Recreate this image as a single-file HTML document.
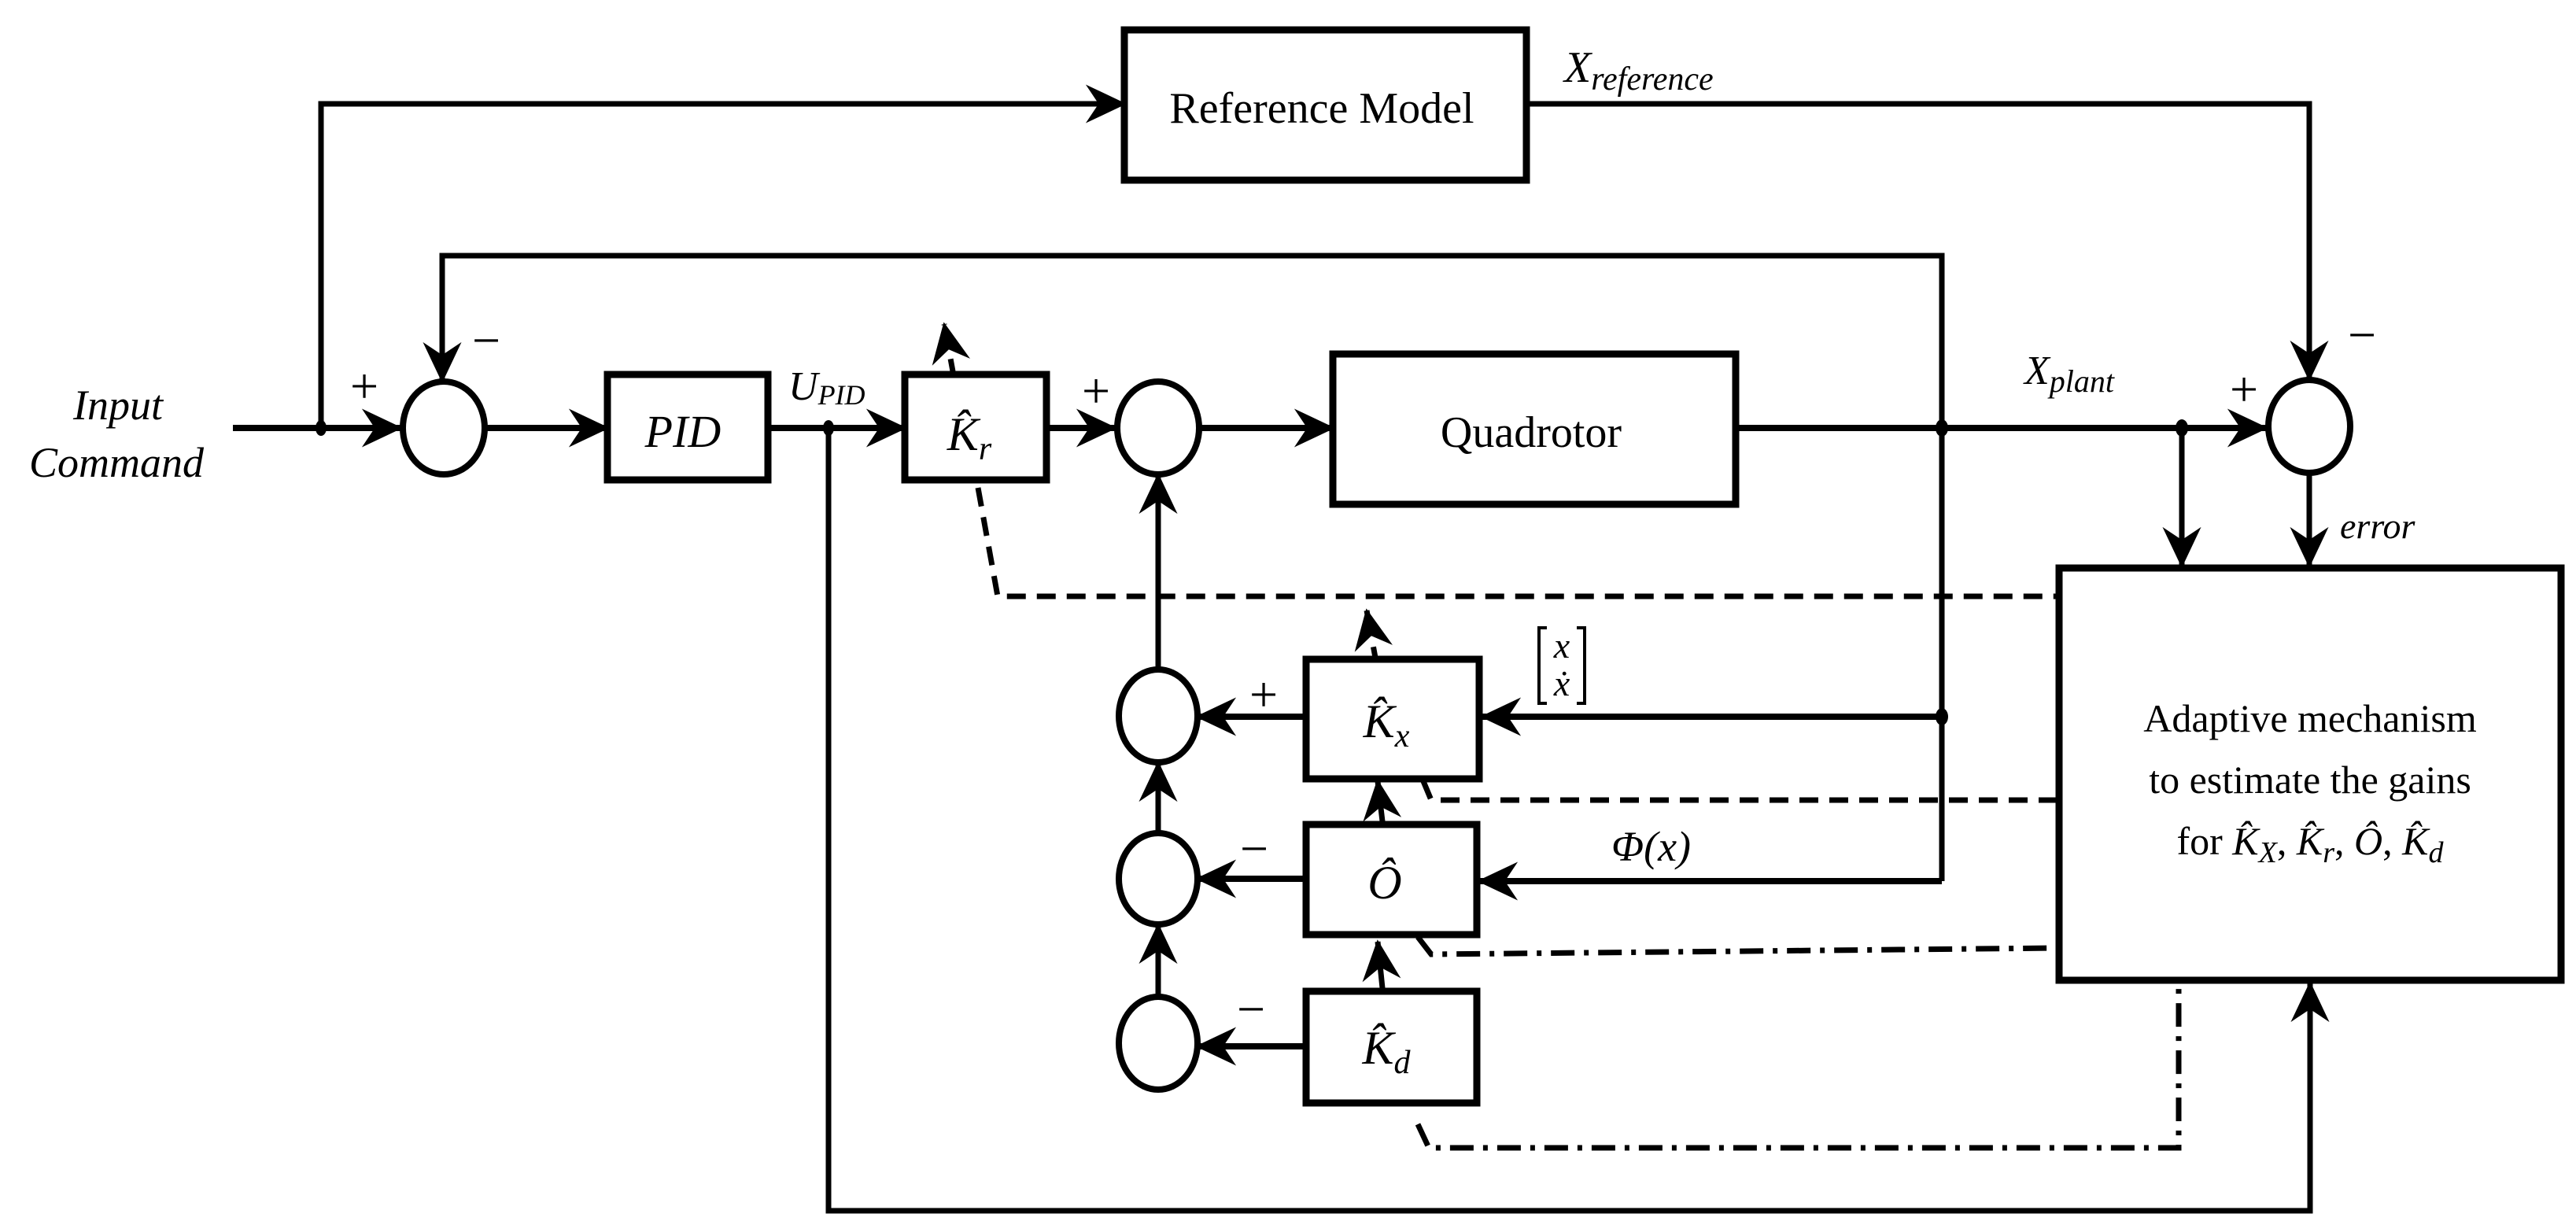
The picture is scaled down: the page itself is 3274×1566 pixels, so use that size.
<!DOCTYPE html>
<html><head><meta charset="utf-8"><style>
html,body{margin:0;padding:0;background:#fff;}
svg{display:block;}
text{font-family:"Liberation Serif","DejaVu Serif",serif;fill:#000;}
.i{font-style:italic;}
</style></head><body>
<svg width="3274" height="1566" viewBox="0 0 3274 1566" xmlns="http://www.w3.org/2000/svg">
<defs>
<marker id="a" markerUnits="userSpaceOnUse" markerWidth="60" markerHeight="60" viewBox="-40 -20 44 40" refX="0" refY="0" orient="auto">
<path d="M2,0 L-36,-18 L-24,0 L-36,18 Z" fill="#000"/>
</marker>
</defs>
<g fill="none" stroke="#000" stroke-width="7">
<rect x="1429" y="38" width="511" height="191" stroke-width="9"/>
<rect x="772" y="476" width="204" height="134" stroke-width="9"/>
<rect x="1150" y="476" width="180" height="134" stroke-width="9"/>
<rect x="1694" y="450" width="512" height="191" stroke-width="9"/>
<rect x="2617" y="722" width="638" height="524" stroke-width="9"/>
<rect x="1660" y="838" width="220" height="152" stroke-width="9"/>
<rect x="1660" y="1048" width="217" height="140" stroke-width="9"/>
<rect x="1660" y="1260" width="217" height="142" stroke-width="9"/>
<ellipse cx="564" cy="544" rx="52" ry="59" stroke-width="8"/>
<ellipse cx="1472" cy="544" rx="52" ry="59" stroke-width="8"/>
<ellipse cx="2935" cy="542" rx="52" ry="59" stroke-width="8"/>
<ellipse cx="1472" cy="910" rx="50" ry="59" stroke-width="8"/>
<ellipse cx="1472" cy="1117" rx="50" ry="58" stroke-width="8"/>
<ellipse cx="1472" cy="1326" rx="50" ry="59" stroke-width="8"/>
<line x1="296" y1="544" x2="509" y2="544" stroke-width="8" marker-end="url(#a)"/>
<polyline points="408,544 408,132 1429,132" marker-end="url(#a)"/>
<line x1="616" y1="544" x2="772" y2="544" stroke-width="8" marker-end="url(#a)"/>
<line x1="976" y1="544" x2="1150" y2="544" stroke-width="8" marker-end="url(#a)"/>
<line x1="1330" y1="544" x2="1417" y2="544" stroke-width="8" marker-end="url(#a)"/>
<line x1="1524" y1="544" x2="1694" y2="544" stroke-width="8" marker-end="url(#a)"/>
<line x1="2206" y1="544" x2="2880" y2="544" stroke-width="8" marker-end="url(#a)"/>
<polyline points="2468,1120 2468,325 562,325 562,484" marker-end="url(#a)"/>
<line x1="2468" y1="1120" x2="1880" y2="1120" stroke-width="8" marker-end="url(#a)"/>
<line x1="2468" y1="911" x2="1884" y2="911" stroke-width="8" marker-end="url(#a)"/>
<polyline points="1940,132 2935,132 2935,482" marker-end="url(#a)"/>
<line x1="2773" y1="544" x2="2773" y2="719" marker-end="url(#a)"/>
<line x1="2935" y1="602" x2="2935" y2="719" marker-end="url(#a)"/>
<polyline points="1053,544 1053,1539 2936,1539 2936,1250" marker-end="url(#a)"/>
<line x1="1472" y1="851" x2="1472" y2="604" marker-end="url(#a)"/>
<line x1="1472" y1="1059" x2="1472" y2="970" marker-end="url(#a)"/>
<line x1="1472" y1="1267" x2="1472" y2="1176" marker-end="url(#a)"/>
<line x1="1660" y1="911" x2="1522" y2="911" stroke-width="8" marker-end="url(#a)"/>
<line x1="1660" y1="1117" x2="1522" y2="1117" stroke-width="8" marker-end="url(#a)"/>
<line x1="1660" y1="1330" x2="1522" y2="1330" stroke-width="8" marker-end="url(#a)"/>
<line x1="1757" y1="1044" x2="1751" y2="993" marker-end="url(#a)"/>
<line x1="1757" y1="1256" x2="1751" y2="1197" marker-end="url(#a)"/>
<polyline points="1243,620 1268,758 2617,758" stroke-dasharray="24 14"/>
<line x1="1211" y1="472" x2="1200" y2="412" stroke-dasharray="16 14" marker-end="url(#a)"/>
<polyline points="1809,993 1819,1017 2617,1017" stroke-dasharray="24 14"/>
<line x1="1748" y1="836" x2="1737" y2="776" stroke-dasharray="14 14" marker-end="url(#a)"/>
<polyline points="1802,1191 1819,1213 2617,1205" stroke-dasharray="30 12 6 12"/>
<polyline points="1802,1429 1816,1459 2769,1459 2769,1250" stroke-dasharray="30 12 6 12"/>
<path d="M1966,798 H1956 V894 H1966" stroke-width="4"/>
<path d="M2004,798 H2014 V894 H2004" stroke-width="4"/>
</g>
<g fill="#000">
<ellipse cx="408" cy="544" rx="7" ry="10"/>
<ellipse cx="1053" cy="544" rx="7" ry="10"/>
<ellipse cx="2468" cy="544" rx="8" ry="11"/>
<ellipse cx="2773" cy="544" rx="8" ry="11"/>
<ellipse cx="2468" cy="911" rx="8" ry="11"/>
</g>
<text x="1680" y="156" font-size="56" text-anchor="middle">Reference Model</text>
<text x="1946" y="568" font-size="56" text-anchor="middle">Quadrotor</text>
<text x="868" y="568" font-size="58" class="i" text-anchor="middle">PID</text>
<text x="2936" y="930" font-size="50" text-anchor="middle">Adaptive mechanism</text>
<text x="2936" y="1008" font-size="50" text-anchor="middle">to estimate the gains</text>
<text x="2936" y="1086" font-size="50" text-anchor="middle">for <tspan class="i">K̂<tspan font-size="38" dy="10">X</tspan></tspan><tspan dy="-10">, </tspan><tspan class="i">K̂<tspan font-size="38" dy="10">r</tspan></tspan><tspan dy="-10">, </tspan><tspan class="i">Ô</tspan>, <tspan class="i">K̂<tspan font-size="38" dy="10">d</tspan></tspan></text>
<text x="150" y="533" font-size="54" class="i" text-anchor="middle">Input</text>
<text x="148" y="606" font-size="54" class="i" text-anchor="middle">Command</text>
<text x="1002" y="508" font-size="52" class="i">U<tspan font-size="36" dy="6">PID</tspan></text>
<text x="1988" y="104" font-size="56" class="i">X<tspan font-size="42" dy="10">reference</tspan></text>
<text x="2573" y="488" font-size="52" class="i">X<tspan font-size="40" dy="10">plant</tspan></text>
<text x="2974" y="684" font-size="46" class="i">error</text>
<text x="1232" y="572" font-size="60" class="i" text-anchor="middle">K̂<tspan font-size="42" dy="12">r</tspan></text>
<text x="1762" y="937" font-size="60" class="i" text-anchor="middle">K̂<tspan font-size="42" dy="12">x</tspan></text>
<text x="1760" y="1142" font-size="60" class="i" text-anchor="middle">Ô</text>
<text x="1762" y="1352" font-size="60" class="i" text-anchor="middle">K̂<tspan font-size="42" dy="12">d</tspan></text>
<text x="2048" y="1094" font-size="54" class="i">Φ(x)</text>
<text x="1985" y="836" font-size="46" class="i" text-anchor="middle">x</text>
<text x="1985" y="884" font-size="46" class="i" text-anchor="middle">ẋ</text>
<text x="463" y="512" font-size="64" text-anchor="middle">+</text>
<text x="618" y="454" font-size="64" text-anchor="middle">−</text>
<text x="1393" y="518" font-size="64" text-anchor="middle">+</text>
<text x="2852" y="516" font-size="64" text-anchor="middle">+</text>
<text x="3002" y="447" font-size="64" text-anchor="middle">−</text>
<text x="1606" y="904" font-size="64" text-anchor="middle">+</text>
<text x="1594" y="1100" font-size="64" text-anchor="middle">−</text>
<text x="1590" y="1304" font-size="64" text-anchor="middle">−</text>
</svg>
</body></html>
